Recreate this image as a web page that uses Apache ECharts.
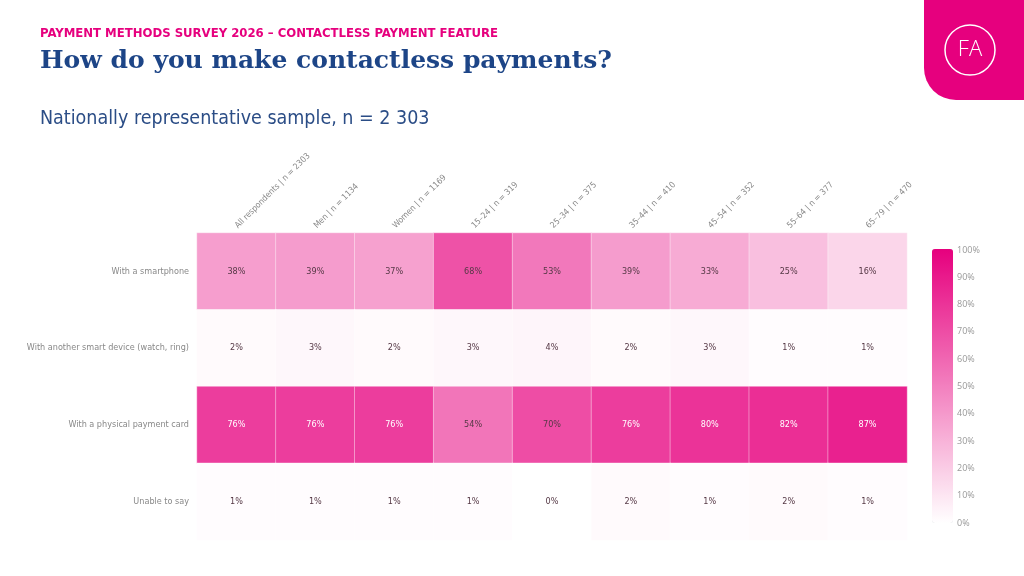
<!DOCTYPE html>
<html>
<head>
<meta charset="utf-8">
<title>How do you make contactless payments?</title>
<script src="https://cdn.jsdelivr.net/npm/echarts@6/dist/echarts.min.js"></script>
<style>
  html, body { margin: 0; padding: 0; background: #fff; }
  #chart { width: 1024px; height: 576px; }
</style>
</head>
<body>
<div id="chart"></div>
<script>
// Survey groups (columns) and answer options (rows)
const groups = [
  'All respondents | n = 2303', 'Men | n = 1134', 'Women | n = 1169',
  '15–24 | n = 319', '25–34 | n = 375', '35–44 | n = 410',
  '45–54 | n = 352', '55–64 | n = 377', '65–79 | n = 470'
];
const answers = [
  'With a smartphone',
  'With another smart device (watch, ring)',
  'With a physical payment card',
  'Unable to say'
];

// Share of respondents (%) per answer, one value per group
const smartphone = [38, 39, 37, 68, 53, 39, 33, 25, 16];
const otherDevice = [2, 3, 2, 3, 4, 2, 3, 1, 1];
const paymentCard = [76, 76, 76, 54, 70, 76, 80, 82, 87];
const unableToSay = [1, 1, 1, 1, 0, 2, 1, 2, 1];

const rows = [smartphone, otherDevice, paymentCard, unableToSay];

const pink = '#e6007e';
const navy = '#1d4587';
const narrow = '"Liberation Sans Narrow", "DejaVu Sans Condensed", sans-serif';

// heatmap cells: [groupIndex, answerIndex, value]
const cells = [];
rows.forEach((vals, r) => {
  vals.forEach((v, c) => {
    cells.push({
      value: [c, r, v],
      label: { color: v >= 75 ? '#fff' : '#553845' }
    });
  });
});

const myChart = echarts.init(document.getElementById('chart'));

const option = {
  backgroundColor: '#fff',
  animation: false,
  title: [
    {
      text: 'PAYMENT METHODS SURVEY 2026 – CONTACTLESS PAYMENT FEATURE',
      left: 35, top: 22,
      textStyle: { color: pink, fontFamily: narrow, fontWeight: 'bold', fontSize: 13 }
    },
    {
      text: 'How do you make contactless payments?',
      left: 35, top: 44,
      textStyle: { color: navy, fontFamily: '"DejaVu Serif", serif', fontWeight: 'bold', fontSize: 25 }
    },
    {
      text: 'Nationally representative sample, n = 2 303',
      left: 35, top: 104,
      textStyle: { color: '#2b4d86', fontFamily: narrow, fontWeight: 'normal', fontSize: 19.5 }
    }
  ],
  graphic: [
    {
      type: 'rect',
      shape: { x: 924, y: 0, width: 100, height: 100, r: [0, 0, 0, 32] },
      style: { fill: pink }
    },
    {
      type: 'circle',
      shape: { cx: 970, cy: 50, r: 25 },
      style: { fill: 'none', stroke: '#fff', lineWidth: 1.5 }
    },
    {
      type: 'text',
      x: 970, y: 50,
      style: {
        text: 'FA', fill: '#fff', font: '300 22px "Open Sans", sans-serif',
        align: 'center', verticalAlign: 'middle'
      }
    }
  ],
  grid: [
    { left: 197, right: 117, top: 233, bottom: 36 },
    { left: 930, top: 250, width: 23, height: 273 }
  ],
  xAxis: [
    {
      type: 'category',
      data: groups,
      position: 'top',
      axisLine: { show: false },
      axisTick: { show: false },
      splitLine: { show: false },
      axisLabel: {
        rotate: -45, interval: 0, margin: 6,
        color: '#888', fontFamily: narrow, fontSize: 8.5
      }
    },
    { type: 'value', gridIndex: 1, show: false }
  ],
  yAxis: [
    {
      type: 'category',
      data: answers,
      inverse: true,
      axisLine: { show: false },
      axisTick: { show: false },
      splitLine: { show: false },
      axisLabel: { color: '#888', fontFamily: narrow, fontSize: 9, margin: 8 }
    },
    {
      type: 'value',
      gridIndex: 1,
      min: 0, max: 100, interval: 10,
      position: 'right',
      axisLine: { show: false },
      axisTick: { show: false },
      splitLine: { show: false },
      axisLabel: {
        formatter: '{value}%', color: '#999',
        fontFamily: '"Open Sans", sans-serif', fontSize: 9, margin: 4
      }
    }
  ],
  visualMap: {
    type: 'continuous',
    min: 0, max: 100,
    calculable: false,
    seriesIndex: 0,
    left: 932, top: 249,
    padding: 0,
    itemWidth: 21, itemHeight: 274,
    inRange: { color: ['#ffffff', pink] }
  },
  series: [{
    type: 'heatmap',
    data: cells,
    label: {
      show: true,
      formatter: p => p.value[2] + '%',
      fontFamily: '"DejaVu Sans Condensed", sans-serif',
      fontSize: 9
    },
    itemStyle: { borderColor: 'rgba(255,255,255,0.4)', borderWidth: 1 },
    emphasis: { disabled: true }
  }]
};

myChart.setOption(option);
window.addEventListener('resize', () => myChart.resize());
</script>
</body>
</html>
